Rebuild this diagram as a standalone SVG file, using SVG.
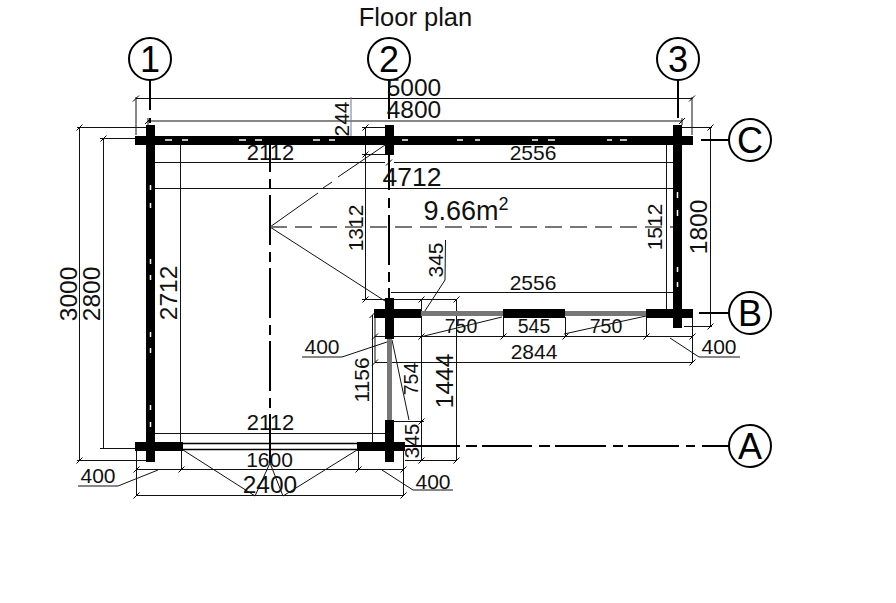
<svg xmlns="http://www.w3.org/2000/svg" width="896" height="603" viewBox="0 0 896 603">
<defs>
<path id="t" d="M-3 3L3 -3" fill="none" stroke="#000" stroke-width="1"/>
</defs>
<style>
text{font-family:"Liberation Sans",Arial,sans-serif;fill:#111;text-anchor:middle}
.d{font-size:21px}
.l{font-size:24.5px}
.s{font-size:19.5px}
.w{fill:#000}
.g{fill:#777}
.dim{fill:none;stroke:#111;stroke-width:1}
.ax{fill:none;stroke:#000;stroke-width:2}
.cl{fill:none;stroke:#000;stroke-width:2;stroke-dasharray:50 7 10 6}
.bub{fill:#fff;stroke:#000;stroke-width:2}
.bt{font-size:36px;fill:#000}
.wd{stroke:#fff;stroke-width:1.5;fill:none}
</style>
<rect width="896" height="603" fill="#fff"/>
<text x="415.500" y="26" style="font-size:25.500px">Floor plan</text>

<g id="connectors">
<path class="dim" d="M136 98.500H692M136 97V135M692 97V135M148 121H682M148 118V127M682 118V125"/>
<path d="M351 97V136" fill="none" stroke="#778" stroke-width="1"/>
<path class="dim" d="M155 162.500H385M394 162.500H673M155 188.500H673M180.500 145V442M666.500 145V310"/>
<path class="dim" d="M77 127.500H146M79.500 127V460M77 460.500H146M100 138.500H135M103.500 138V448M100 448.500H135"/>
<path class="dim" d="M362 127.500H385M365.500 127V299M362 154.500H385M362 299.500H385M682 127.500H712M710.500 127V326M684 326.500H712"/>
<path class="dim" d="M391 292.500H673M362 299.500H457M421.500 299V460M456.500 299V460M375 336.500H692M375 317V362M375 362.500H692M503.500 317V336M565.500 317V336M646.500 317V336M692.500 318V362M372.500 315V442M155 433.500H385M394 421.500H424M405 460.500H457"/>
<path class="dim" d="M136.500 451V495M181.500 451V469M358.500 451V469M403.500 451V495M136 469.500H403M136 495.500H403"/>
<path class="dim" d="M421 317L445 280L445.500 240M420 337L502 317M564 334L646 316M302 357H342L387 342M392 340L409 420M670 338L699 357H740M78 486H118L158 470M382 470L413 490H453"/>
<path class="dim" d="M183 450L255 496L270 463L283 496L357 450M270 227L385 301M270 227L318 193M323 188L332 182M338 177L385 145"/>
<path d="M270 227H676" fill="none" stroke="#777" stroke-width="2" stroke-dasharray="17 8"/>
<path class="ax" d="M150 80V110M150 118V123M389 78V119M389 155V190M678 78V118"/>
<path class="cl" stroke-dashoffset="0" d="M389 198V298" style="stroke-dasharray:10 7 50 7 10 6"/>
<path class="cl" stroke-dashoffset="23" d="M270 145V463"/>
<path class="ax" d="M701 140H729M699 313H729M405 446H460M466 446H477M482 446H532M539 446H550M555 446H606M613 446H623M628 446H679M686 446H695M702 446H729"/>
<path fill="none" stroke="#000" stroke-width="1.500" d="M183 443.500H357M183 449.500H357"/>
<use href="#t" x="136" y="98.500"/><use href="#t" x="692" y="98.500"/><use href="#t" x="148" y="121"/><use href="#t" x="682" y="121"/><use href="#t" x="79.500" y="127.500"/><use href="#t" x="79.500" y="460.500"/><use href="#t" x="103.500" y="138.500"/><use href="#t" x="365.500" y="127.500"/><use href="#t" x="365.500" y="154.500"/><use href="#t" x="365.500" y="299.500"/><use href="#t" x="389" y="162.500"/><use href="#t" x="710.500" y="127.500"/><use href="#t" x="710.500" y="326.500"/><use href="#t" x="421.500" y="299.500"/><use href="#t" x="456.500" y="299.500"/><use href="#t" x="421.500" y="336.500"/><use href="#t" x="421.500" y="421.500"/><use href="#t" x="421.500" y="460.500"/><use href="#t" x="456.500" y="460.500"/><use href="#t" x="372.500" y="315"/><use href="#t" x="375" y="336.500"/><use href="#t" x="375" y="362.500"/><use href="#t" x="503.500" y="336.500"/><use href="#t" x="565.500" y="336.500"/><use href="#t" x="646.500" y="336.500"/><use href="#t" x="692.500" y="336.500"/><use href="#t" x="692.500" y="362.500"/><use href="#t" x="136.500" y="469.500"/><use href="#t" x="181.500" y="469.500"/><use href="#t" x="358.500" y="469.500"/><use href="#t" x="403.500" y="469.500"/><use href="#t" x="136.500" y="495.500"/><use href="#t" x="403.500" y="495.500"/>
</g>

<g id="walls">
<rect class="w" x="135" y="136" width="558" height="9"/>
<rect class="w" x="146" y="125" width="9" height="337"/>
<rect class="w" x="385" y="125" width="9" height="30"/>
<rect class="w" x="673" y="125" width="9" height="203"/>
<rect class="g" x="421" y="311" width="82" height="5"/>
<rect class="g" x="565" y="311" width="81" height="5"/>
<rect class="w" x="374" y="309" width="47" height="9"/>
<rect class="w" x="503" y="309" width="62" height="9"/>
<rect class="w" x="646" y="309" width="47" height="9"/>
<rect class="w" x="385" y="298" width="9" height="41"/>
<rect class="g" x="387" y="339" width="5" height="81"/>
<rect class="w" x="385" y="420" width="9" height="42"/>
<rect class="w" x="135" y="442" width="48" height="9"/>
<rect class="w" x="357" y="442" width="48" height="9"/>
<path class="wd" d="M165 140H172M182 140H188M239 140H246M255 140H262M313 140H320M329 140H335M402 140H408M457 140H463M475 140H480M532 140H538M548 140H555M607 140H612M620 140H627"/>
<path class="wd" d="M150.500 185V190M150.500 203V208M150.500 259V264M150.500 275V280M150.500 332V337M150.500 348V353M150.500 405V410M150.500 422V427M677.500 192V198M677.500 210V216M677.500 267V272M677.500 282V287"/>
</g>

<g id="axis-1"><circle class="bub" cx="150" cy="59" r="21"/><text class="bt" x="150" y="72">1</text></g>
<g id="axis-2"><circle class="bub" cx="389" cy="59" r="21"/><text class="bt" x="389" y="72">2</text></g>
<g id="axis-3"><circle class="bub" cx="678" cy="59" r="21"/><text class="bt" x="678" y="72">3</text></g>
<g id="axis-C"><circle class="bub" cx="750" cy="140" r="21"/><text class="bt" x="750" y="153">C</text></g>
<g id="axis-B"><circle class="bub" cx="750" cy="313" r="21"/><text class="bt" x="750" y="326">B</text></g>
<g id="axis-A"><circle class="bub" cx="750" cy="446" r="21"/><text class="bt" x="750" y="459">A</text></g>

<g id="labels">
<text class="l" x="414" y="96">5000</text>
<text class="l" x="414" y="118">4800</text>
<text class="d" x="270.500" y="160" style="font-size:22px">2112</text>
<text class="d" x="533" y="160">2556</text>
<text class="l" x="412" y="186" style="font-size:26.500px">4712</text>
<text class="l" x="466" y="220" style="font-size:27px">9.66m<tspan dy="-10" font-size="18">2</tspan></text>
<text class="d" x="533" y="290">2556</text>
<text class="s" x="461" y="333">750</text>
<text class="s" x="534" y="333">545</text>
<text class="s" x="606" y="333">750</text>
<text class="d" x="534" y="359">2844</text>
<text class="d" x="322" y="354">400</text>
<text class="d" x="719" y="354">400</text>
<text class="d" x="270.500" y="430" style="font-size:22px">2112</text>
<text class="d" x="269.500" y="467">1600</text>
<text class="l" x="270" y="493">2400</text>
<text class="d" x="98" y="483">400</text>
<text class="d" x="433" y="489">400</text>
<text class="d" transform="translate(349 119) rotate(-90)">244</text>
<text class="l" transform="translate(77 294) rotate(-90)">3000</text>
<text class="l" transform="translate(100 294) rotate(-90)">2800</text>
<text class="l" transform="translate(177 293) rotate(-90)">2712</text>
<text class="d" transform="translate(363 228) rotate(-90)">1312</text>
<text class="d" transform="translate(662 227) rotate(-90)">1512</text>
<text class="l" transform="translate(707 227) rotate(-90)">1800</text>
<text class="d" transform="translate(443 260) rotate(-90)">345</text>
<text class="d" transform="translate(369 380) rotate(-90)">1156</text>
<text class="s" transform="translate(418 379) rotate(-90)">754</text>
<text class="l" transform="translate(453 381) rotate(-90)">1444</text>
<text class="d" transform="translate(419 441) rotate(-90)">345</text>
</g>
</svg>
